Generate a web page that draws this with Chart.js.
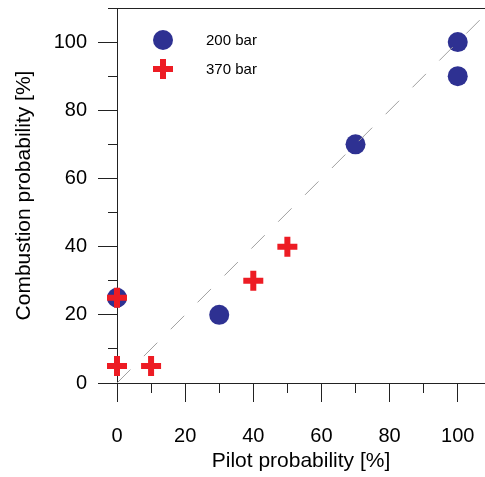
<!DOCTYPE html>
<html>
<head>
<meta charset="utf-8">
<script src="https://cdn.jsdelivr.net/npm/chart.js@4.4.1/dist/chart.umd.min.js"></script>
<style>
  body { margin: 0; background: #fff; }
  #wrap { width: 485px; height: 477px; }
</style>
</head>
<body>
<div id="wrap"><canvas id="grafico" width="485" height="477"></canvas></div>
<script>
// Datos
const serieNombres = ["200 bar", "370 bar"];
const piloto200 = [0, 30, 70, 100, 100];
const combustion200 = [25, 20, 70, 100, 90];
const piloto370 = [0, 0, 10, 40, 50];
const combustion370 = [25, 5, 5, 30, 40];
const diagonalX = [0, 110];
const diagonalY = [0, 110];
const ticksX = [0, 10, 20, 30, 40, 50, 60, 70, 80, 90, 100];
const ticksY = [0, 10, 20, 30, 40, 50, 60, 70, 80, 90, 100, 110];
const ticksMayores = [0, 20, 40, 60, 80, 100];

const AZUL = "#2e3192";
const ROJO = "#ed1c24";
const EJE = "#222";
const FUENTE = "'Liberation Sans', Arial, sans-serif";

const aPuntos = (xs, ys) => xs.map((x, i) => ({ x, y: ys[i] }));
const esMayor = (v) => ticksMayores.includes(v);

// Ticks: los mayores largos, los menores cortos (con dash)
const gridEje = (lado) => ({
  drawOnChartArea: false,
  drawTicks: true,
  tickLength: 19,
  color: EJE,
  tickColor: EJE,
  tickWidth: 1,
  tickBorderDash: (ctx) => {
    if (!ctx.tick || esMayor(ctx.tick.value)) return [];
    return lado === "left" ? [0, 10, 9, 100] : [9, 100];
  },
});

// Ajusta el tamaño del eje y quita el relleno extra de las etiquetas
const fijarEje = (ancho, alto) => (s) => {
  if (ancho !== null) s.width = ancho;
  if (alto !== null) s.height = alto;
  s.paddingTop = 0;
  s.paddingBottom = 0;
  s.paddingLeft = 0;
  s.paddingRight = 0;
};

// Leyenda dibujada dentro del área del gráfico
const leyendaInterna = {
  id: "leyendaInterna",
  afterDatasetsDraw(chart) {
    const { ctx, chartArea } = chart;
    const items = [chart.data.datasets[2], chart.data.datasets[1]];
    items.forEach((ds, i) => {
      const cx = chartArea.left + 46;
      const cy = chartArea.top + 32 + i * 29;
      ctx.save();
      ctx.fillStyle = ds.backgroundColor;
      ctx.strokeStyle = ds.borderColor;
      ctx.lineWidth = ds.borderWidth;
      Chart.helpers.drawPoint(ctx, { pointStyle: ds.pointStyle, radius: ds.pointRadius, rotation: 0, borderWidth: ds.borderWidth }, cx, cy);
      ctx.fillStyle = "#000";
      ctx.font = "15px " + FUENTE;
      ctx.textBaseline = "middle";
      ctx.fillText(ds.label, chartArea.left + 89, cy + 1);
      ctx.restore();
    });
  },
};

const ctx = document.getElementById("grafico").getContext("2d");

new Chart(ctx, {
  type: "scatter",
  data: {
    datasets: [
      {
        type: "line",
        label: "diagonal",
        data: aPuntos(diagonalX, diagonalY),
        borderColor: "#a0a0a0",
        borderWidth: 1,
        borderDash: [19, 19],
        pointRadius: 0,
        fill: false,
      },
      {
        label: serieNombres[1],
        data: aPuntos(piloto370, combustion370),
        pointStyle: "cross",
        pointRadius: 10,
        pointHoverRadius: 10,
        borderWidth: 6,
        borderColor: ROJO,
        backgroundColor: ROJO,
        clip: false,
      },
      {
        label: serieNombres[0],
        data: aPuntos(piloto200, combustion200),
        pointStyle: "circle",
        pointRadius: 10,
        pointHoverRadius: 10,
        borderWidth: 0,
        borderColor: AZUL,
        backgroundColor: AZUL,
        clip: false,
      },
    ],
  },
  options: {
    responsive: false,
    animation: false,
    layout: { autoPadding: false, padding: { top: 8, right: 0, bottom: 0, left: 0 } },
    plugins: {
      legend: { display: false },
      tooltip: { enabled: false },
    },
    scales: {
      x: {
        type: "linear",
        position: "bottom",
        min: 0,
        max: 108,
        afterBuildTicks: (s) => {
          s.ticks = ticksX.map((v) => ({ value: v }));
        },
        afterFit: fijarEje(null, 94),
        ticks: {
          autoSkip: false,
          maxRotation: 0,
          padding: 22,
          color: "#000",
          font: { family: FUENTE, size: 20 },
          callback: (v) => (esMayor(v) ? v : ""),
        },
        grid: gridEje("bottom"),
        border: { display: true, color: EJE, width: 1 },
        title: {
          display: true,
          text: "Pilot probability [%]",
          color: "#000",
          font: { family: FUENTE, size: 21 },
          padding: { top: 0, bottom: 3 },
        },
      },
      xTop: {
        type: "linear",
        position: "top",
        min: 0,
        max: 108,
        afterFit: fijarEje(null, 0),
        ticks: { display: false },
        grid: { display: false, drawTicks: false },
        border: { display: true, color: EJE, width: 1 },
      },
      y: {
        type: "linear",
        position: "left",
        min: 0,
        max: 110,
        afterBuildTicks: (s) => {
          s.ticks = ticksY.map((v) => ({ value: v }));
        },
        afterFit: fijarEje(117, null),
        ticks: {
          autoSkip: false,
          padding: 11,
          color: "#000",
          font: { family: FUENTE, size: 20 },
          callback: (v) => (esMayor(v) ? v : ""),
        },
        grid: gridEje("left"),
        border: { display: true, color: EJE, width: 1 },
        title: {
          display: true,
          text: "Combustion probability [%]",
          color: "#000",
          font: { family: FUENTE, size: 21 },
          padding: { top: 12, bottom: 0 },
        },
      },
    },
  },
  plugins: [leyendaInterna],
});
</script>
</body>
</html>
